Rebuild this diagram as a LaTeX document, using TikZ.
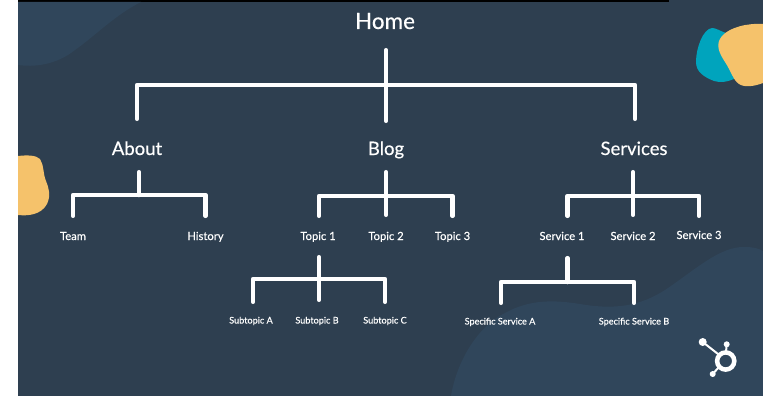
\documentclass[tikz,border=0pt]{standalone}
\usepackage{fontspec}
\setmainfont{Lato}
\newfontfamily\labfont{Lato}[FakeBold=0.35]
\definecolor{bgdark}{HTML}{2E3F50}
\definecolor{bglight}{HTML}{30465B}
\definecolor{sun}{HTML}{F5C26B}
\definecolor{teal}{HTML}{00A4BD}
\tikzset{
  x=1pt,y=-1pt,
  link/.style={draw=white,line width=4.5pt,line cap=round,line join=round},
  lab/.style 2 args={inner sep=0pt,text=white,anchor=base,text height=#1pt,text depth=#2pt},
  hometext/.style 2 args={lab={#1}{#2},font=\labfont\fontsize{22.5}{24}\selectfont},
  big/.style 2 args={lab={#1}{#2},font=\labfont\fontsize{18.5}{20}\selectfont},
  mid/.style 2 args={lab={#1}{#2},font=\labfont\fontsize{11.2}{13}\selectfont},
  tiny/.style 2 args={lab={#1}{#2},font=\labfont\fontsize{9.1}{11}\selectfont},
  logo/.style={draw=white,line width=2pt,line cap=round},
}
\begin{document}
\begin{tikzpicture}
\useasboundingbox (0,0) rectangle (763,396);
\fill[white] (0,0) rectangle (18,396);
\fill[bgdark] (18,0) rectangle (763,396);
\fill[black] (18,0) rectangle (669,2);
% background blobs
\fill[bglight] (18,65) .. controls (40,68) and (60,62) .. (75,50) .. controls (95,36) and (115,15) .. (141,2) -- (18,2) -- cycle;
\fill[bglight] (451,396) .. controls (456,365) and (475,328) .. (505,313) .. controls (530,299) and (555,300) .. (580,304) .. controls (615,310) and (640,306) .. (665,290) .. controls (695,270) and (720,246) .. (745,247) .. controls (752,247) and (758,248) .. (763,251) -- (763,396) -- cycle;
\fill[sun] (18,156) .. controls (27,155) and (36,155) .. (40,159) .. controls (44,165) and (43,174) .. (46,181) .. controls (49,189) and (51,195) .. (47,204) .. controls (41,215) and (28,216) .. (18,215) -- cycle;
\fill[teal] (712,28) .. controls (716,28) and (720,31) .. (726,33) -- (736,78) .. controls (728,82) and (720,83) .. (714,81) .. controls (704,77) and (696,72) .. (696,62) .. controls (696,48) and (703,29) .. (712,28) -- cycle;
\fill[sun] (763,24) .. controls (748,23) and (730,27) .. (722,36) .. controls (715,44) and (719,53) .. (725,62) .. controls (731,71) and (733,80) .. (739,84) .. controls (745,88) and (755,86) .. (763,83) -- cycle;
% logo
\draw[white,line width=4.5pt] (725.7,361) circle (8.6);
\fill[white] (702.7,342) circle (4);
\fill[white] (726.7,344.3) circle (3);
\fill[white] (712.7,374) circle (3);
\draw[logo] (702.7,342) -- (718,354);
\draw[logo] (726.7,344.3) -- (726,352);
\draw[logo] (712.7,374) -- (719,367);
% labels
\node[hometext={10}{21}] (home) at (385,29) {Home};
\node[big={36}{17}] (about) at (137,155) {About};
\node[big={34}{17}] (blog) at (386,155) {Blog};
\node[big={36}{17}] (services) at (634,155) {Services};
\node[mid={24}{0}] (team) at (73,240) {Team};
\node[mid={24}{0}] (history) at (205.5,240) {History};
\node[mid={24}{17}] (topic1) at (318,240) {Topic 1};
\node[mid={25}{0}] (topic2) at (386,240) {Topic 2};
\node[mid={24}{0}] (topic3) at (452.5,240) {Topic 3};
\node[mid={24}{18}] (service1) at (562,240) {Service 1};
\node[mid={25}{0}] (service2) at (633,240) {Service 2};
\node[mid={23}{0}] (service3) at (699,239) {Service 3};
\node[tiny={21.5}{0}] (subA) at (251,323.5) {Subtopic A};
\node[tiny={23.5}{0}] (subB) at (317,323.5) {Subtopic B};
\node[tiny={21.5}{0}] (subC) at (385,323.5) {Subtopic C};
\node[tiny={21.5}{0}] (specA) at (500,324.5) {Specific Service A};
\node[tiny={21.5}{0}] (specB) at (634,324.5) {Specific Service B};
% junctions
\coordinate (jhome) at (386,85);
\coordinate (jabout) at (139,195);
\coordinate (jblog) at (386,196);
\coordinate (jserv) at (633,196);
\coordinate (jtopic) at (319,279);
\coordinate (jspec) at (567.5,282);
% connectors
\draw[link] (about.north) |- (jhome) -| ([xshift=1pt]services.north);
\draw[link] ([xshift=1pt]home.south) -- (blog.north);
\draw[link] ([xshift=2pt]about.south) -- (jabout);
\draw[link] (team.north) |- (jabout) -| (history.north);
\draw[link] ([xshift=1pt]topic1.north) |- (jblog) -| (topic3.north);
\draw[link] (blog.south) -- (topic2.north);
\draw[link] ([xshift=5.5pt]service1.north) |- (jserv) -| (service3.north);
\draw[link] ([xshift=-1pt]services.south) -- (service2.north);
\draw[link] ([xshift=1pt]topic1.south) -- ([xshift=2pt]subB.north);
\draw[link] ([xshift=2pt]subA.north) |- (jtopic) -| (subC.north);
\draw[link] ([xshift=5.5pt]service1.south) -- (jspec);
\draw[link] ([xshift=1pt]specA.north) |- (jspec) -| (specB.north);
\end{tikzpicture}
\end{document}
